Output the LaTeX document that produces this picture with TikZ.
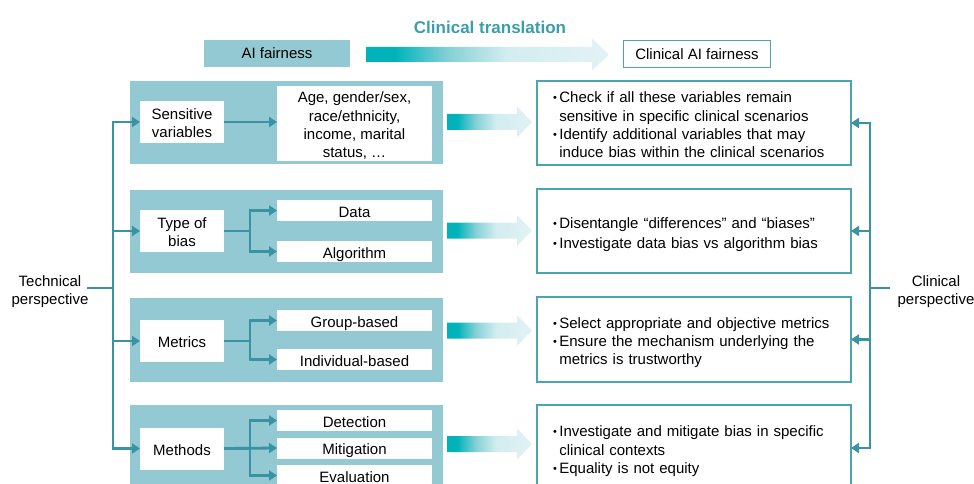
\documentclass[tikz,border=0pt]{standalone}
\usepackage{fontspec}
\setmainfont{Liberation Sans}
\usetikzlibrary{arrows.meta,calc}

\definecolor{panelc}{HTML}{93C9D2}
\definecolor{linec}{HTML}{3A93A3}
\definecolor{framec}{HTML}{4AA4B1}
\definecolor{titlec}{HTML}{3C9DAC}
\definecolor{gA}{HTML}{00B3BB}
\definecolor{gB}{HTML}{86D1D7}
\definecolor{gC}{HTML}{D3EDF0}
\definecolor{gD}{HTML}{E2F2F4}

% teal-to-pale fill of the translation arrows
\pgfdeclarehorizontalshading{fadeflow}{100bp}{%
  color(0bp)=(gA); color(25bp)=(gA); color(31bp)=(gA);
  color(42bp)=(gB); color(54bp)=(gC); color(75bp)=(gD); color(100bp)=(gD)}

% block arrow: start x, base of head x, tip x, centre y, body half-height, head half-height
\newcommand{\flowarrow}[6]{%
  \shade[shading=fadeflow]
    (#1,{#4-#5}) -- (#2,{#4-#5}) -- (#2,{#4-#6}) -- (#3,#4)
    -- (#2,{#4+#6}) -- (#2,{#4+#5}) -- (#1,{#4+#5}) -- cycle;}

% centred lines, set a little below the box centre
\newcommand{\tx}[2][3pt]{\raisebox{-#1}[\height][\depth]{\begin{tabular}{@{}c@{}}#2\end{tabular}}}
% bulleted list for the clinical boxes
\newcommand{\bul}{\raisebox{1pt}{\fontsize{11}{11}\selectfont\textbullet}}
\newenvironment{blist}{\begin{lrbox}{0}\begin{tabular}{@{}l@{\hspace{2.5pt}}l@{}}}
  {\end{tabular}\end{lrbox}\raisebox{-3.5pt}[\ht0][\dp0]{\usebox{0}}}

\tikzset{
  every node/.style={font=\fontsize{15}{18.3}\selectfont, inner sep=0pt, outer sep=0pt},
  panel/.style={fill=panelc, minimum width=313pt},
  wbox/.style={fill=white, align=center},
  keybox/.style={wbox, minimum width=84pt, minimum height=42pt},
  subbox/.style={wbox, minimum width=155pt, minimum height=21pt},
  outbox/.style={draw=framec, line width=1.4pt, fill=white, align=left,
    text width=282pt, inner xsep=16pt, minimum height=84pt},
  conn/.style={draw=linec, line width=2.8pt},
  arr/.style={-{Triangle[length=8pt,width=10pt]}},
}

\begin{document}
\begin{tikzpicture}[x=1pt, y=-1pt]
\useasboundingbox (0,0) rectangle (974,484);
\clip (0,0) rectangle (974,484);

% header
\node[font=\bfseries\fontsize{17}{20}\selectfont, text=titlec] (title) at (490,27) {Clinical translation};
\node[fill=panelc, minimum width=146pt, minimum height=27pt] (ai) at (277,53.5) {AI fairness};
\node[draw=framec, line width=1.4pt, fill=white, minimum width=147pt, minimum height=27pt] (cai) at (697,54) {Clinical AI fairness};
\flowarrow{366}{592}{609}{54.5}{7.5}{16}

% technical panels
\node[panel, minimum height=83pt] (p1) at (286.5,122.5) {};
\node[panel, minimum height=83pt] (p2) at (286.5,231.5) {};
\node[panel, minimum height=84pt] (p3) at (286.5,340) {};
\node[panel, minimum height=86pt] (p4) at (286.5,448) {};

\node[keybox] (sv) at (182,122) {\tx{Sensitive\\variables}};
\node[wbox, minimum width=155pt, minimum height=75pt] (age) at (354.5,123.5)
  {\tx{Age, gender/sex,\\race/ethnicity,\\income, marital\\status, \dots}};

\node[keybox] (tob) at (182,231) {\tx{Type of\\bias}};
\node[subbox] (data) at (354.5,210.5) {\tx{Data}};
\node[subbox] (alg) at (354.5,251.5) {\tx{Algorithm}};

\node[keybox] (met) at (182,341) {\tx{Metrics}};
\node[subbox] (grp) at (354.5,320.5) {\tx{Group-based}};
\node[subbox] (ind) at (354.5,359.5) {\tx{Individual-based}};

\node[keybox] (mth) at (182,448.5) {\tx{Methods}};
\node[subbox] (det) at (354.5,420.5) {\tx{Detection}};
\node[subbox] (mit) at (354.5,448) {\tx{Mitigation}};
\node[subbox] (eva) at (354.5,475.5) {\tx{Evaluation}};

% links inside the panels
\draw[conn,arr] (sv.east) -- (sv.east -| age.west);
\draw[conn,arr] (tob.east) -- ++(26,0) |- (data.west);
\draw[conn,arr] (tob.east) -- ++(26,0) |- (alg.west);
\draw[conn,arr] (met.east) -- ++(26,0) |- (grp.west);
\draw[conn,arr] (met.east) -- ++(26,0) |- (ind.west);
\draw[conn,arr] (mth.east) -- ++(26,0) |- (det.west);
\draw[conn,arr] (mth.east) -- (mit.west);
\draw[conn,arr] (mth.east) -- ++(26,0) |- (eva.west);

% clinical boxes
\node[outbox] (r1) at (694,123) {%
  \begin{blist}
  \bul & Check if all these variables remain\\
       & sensitive in specific clinical scenarios\\
  \bul & Identify additional variables that may\\
       & induce bias within the clinical scenarios
  \end{blist}};
\node[outbox] (r2) at (694,231) {%
  \begin{blist}
  \bul & Disentangle \textquotedblleft differences\textquotedblright{} and \textquotedblleft biases\textquotedblright\\[1.5pt]
  \bul & Investigate data bias vs algorithm bias
  \end{blist}};
\node[outbox, minimum height=85pt] (r3) at (694,339.5) {%
  \begin{blist}
  \bul & Select appropriate and objective metrics\\
  \bul & Ensure the mechanism underlying the\\
       & metrics is trustworthy
  \end{blist}};
\node[outbox, minimum height=86pt] (r4) at (694,448) {%
  \begin{blist}
  \bul & Investigate and mitigate bias in specific\\
       & clinical contexts\\
  \bul & Equality is not equity
  \end{blist}};

% translation arrows between the two columns
\flowarrow{447}{517}{532}{122}{8}{15.5}
\flowarrow{447}{517}{532}{230.5}{8}{15.5}
\flowarrow{447}{517}{532}{330.5}{8}{15.5}
\flowarrow{447}{517}{532}{444}{8}{15.5}

% technical perspective tree
\node (tech) at (50,289.5) {\tx[2pt]{Technical\\perspective}};
\coordinate (tj) at (113,288);
\coordinate (tl) at (87,288);
\draw[conn] (tl) -- (tj);
\draw[conn,arr] (mth.west -| tj) |- (sv.west);
\draw[conn,arr] (sv.west -| tj) |- (mth.west);
\draw[conn,arr] (tob.west -| tj) -- (tob.west);
\draw[conn,arr] (met.west -| tj) -- (met.west);

% clinical perspective tree
\node (clin) at (936,289.5) {\tx[2pt]{Clinical\\perspective}};
\coordinate (rj) at (870,288);
\coordinate (rl) at (890,288);
\draw[conn] (rl) -- (rj);
\draw[conn,arr] (r4.east -| rj) |- (r1.east);
\draw[conn,arr] (r1.east -| rj) |- (r4.east);
\draw[conn,arr] (r2.east -| rj) -- (r2.east);
\draw[conn,arr] (r3.east -| rj) -- (r3.east);
\end{tikzpicture}
\end{document}
